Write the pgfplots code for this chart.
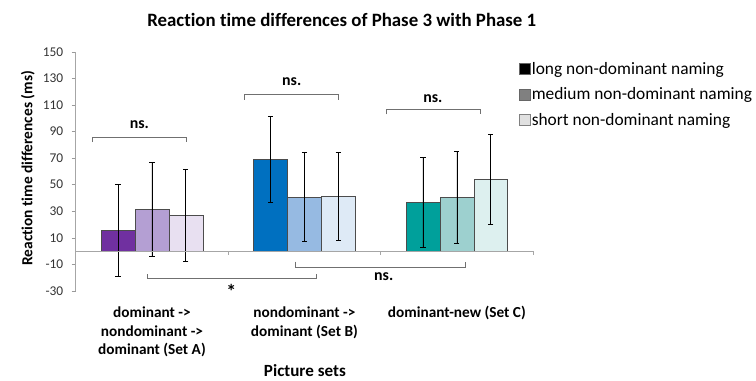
\documentclass[border=0pt]{standalone}
\usepackage{pgfplots}
\pgfplotsset{compat=1.18}
\usepackage{fontspec}
\setmainfont[Ligatures=NoCommon]{Carlito}

\definecolor{purA}{HTML}{7030A0}
\definecolor{purB}{HTML}{B49FD3}
\definecolor{purC}{HTML}{E8E0F1}
\definecolor{bluA}{HTML}{0070C0}
\definecolor{bluB}{HTML}{96BAE2}
\definecolor{bluC}{HTML}{DEEAF6}
\definecolor{teaA}{HTML}{00A09B}
\definecolor{teaB}{HTML}{9DD0CF}
\definecolor{teaC}{HTML}{DDF0EF}
\definecolor{bracket}{HTML}{707070}

\pgfplotsset{
  rtbar/.style={ybar, bar shift=0pt, fill=#1, draw=black!70, line width=0.5pt, forget plot},
}

\begin{document}
\begin{tikzpicture}
\begin{axis}[
  scale only axis,
  width=459bp, height=240bp,
  xmin=-0.5, xmax=2.5,
  ymin=-30, ymax=150,
  clip=false,
  axis x line*=bottom,
  axis y line*=left,
  x axis line style={draw=none},
  y axis line style={draw=black!35, line width=0.7pt},
  major x tick style={draw=none},
  ytick={-30,-10,...,150},
  ytick style={draw=black!40, line width=0.6pt},
  tick align=outside,
  major tick length=4bp,
  /pgf/number format/assume math mode=true,
  yticklabel style={font=\fontsize{13.5}{16}\selectfont, text=black!80, xshift=-5bp},
  xtick={0,1,2},
  xticklabels={{dominant ->\\nondominant ->\\dominant (Set A)},{nondominant ->\\dominant (Set B)},{dominant-new (Set C)}},
  xticklabel style={font=\bfseries\fontsize{15.4}{19}\selectfont, align=center, anchor=north, yshift=-8bp},
  bar width=34bp,
  error bars/y dir=both,
  error bars/y explicit,
  error bars/error mark options={rotate=90, mark size=2.6bp, line width=0.7pt, black},
  error bars/error bar style={line width=0.7pt, black},
  legend cell align=left,
  legend style={at={(0.963,0.97)}, anchor=north west, draw=none, fill=none,
    font=\fontsize{17.5}{20}\selectfont, row sep=10bp,
    nodes={inner sep=1bp}},
]
% Set A: dominant -> nondominant -> dominant
\addplot[rtbar=purA] coordinates {(-0.2222,15.5) +- (0,34.5)};
\addplot[rtbar=purB] coordinates {( 0.0000,31.2) +- (0,35.4)};
\addplot[rtbar=purC] coordinates {( 0.2222,27.0) +- (0,34.6)};
% Set B: nondominant -> dominant
\addplot[rtbar=bluA] coordinates {( 0.7778,68.8) +- (0,32.4)};
\addplot[rtbar=bluB] coordinates {( 1.0000,40.5) +- (0,33.5)};
\addplot[rtbar=bluC] coordinates {( 1.2222,41.3) +- (0,33.0)};
% Set C: dominant-new
\addplot[rtbar=teaA] coordinates {( 1.7778,36.5) +- (0,34.0)};
\addplot[rtbar=teaB] coordinates {( 2.0000,40.5) +- (0,34.4)};
\addplot[rtbar=teaC] coordinates {( 2.2222,54.0) +- (0,34.2)};

% legend swatches
\addlegendimage{legend image code/.code={\draw[fill=black, draw=black!60, line width=0.5pt] (0bp,-5.5bp) rectangle (11bp,5.5bp);}}
\addlegendentry{long non-dominant naming}
\addlegendimage{legend image code/.code={\draw[fill=black!50, draw=black!60, line width=0.5pt] (0bp,-5.5bp) rectangle (11bp,5.5bp);}}
\addlegendentry{medium non-dominant naming}
\addlegendimage{legend image code/.code={\draw[fill=black!12, draw=black!50, line width=0.5pt] (0bp,-5.5bp) rectangle (11bp,5.5bp);}}
\addlegendentry{short non-dominant naming}

% zero line with category separators
\draw[black!35, line width=0.7pt] (axis cs:-0.5,0) -- (axis cs:2.5,0);
\draw[black!35, line width=0.6pt] (axis cs:0.5,0) -- (axis cs:0.5,-3);
\draw[black!35, line width=0.6pt] (axis cs:1.5,0) -- (axis cs:1.5,-3);
\draw[black!35, line width=0.6pt] (axis cs:2.5,0) -- (axis cs:2.5,-3);

% significance brackets
\draw[bracket, line width=0.7pt] (axis cs:-0.391,82) -- (axis cs:-0.391,85.7) -- (axis cs:0.225,85.7) -- (axis cs:0.225,82);
\node[font=\bfseries\fontsize{16}{18}\selectfont] at (axis cs:-0.083,95.5) {ns.};
\draw[bracket, line width=0.7pt] (axis cs:0.609,114) -- (axis cs:0.609,117.8) -- (axis cs:1.225,117.8) -- (axis cs:1.225,114);
\node[font=\bfseries\fontsize{16}{18}\selectfont] at (axis cs:0.917,127.5) {ns.};
\draw[bracket, line width=0.7pt] (axis cs:1.535,103) -- (axis cs:1.535,106.5) -- (axis cs:2.152,106.5) -- (axis cs:2.152,103);
\node[font=\bfseries\fontsize{16}{18}\selectfont] at (axis cs:1.843,114.5) {ns.};
\draw[bracket, line width=0.7pt] (axis cs:-0.031,-17.5) -- (axis cs:-0.031,-20.5) -- (axis cs:1.077,-20.5) -- (axis cs:1.077,-17.5);
\node[font=\bfseries\fontsize{20}{20}\selectfont] at (axis cs:0.52,-30.5) {*};
\draw[bracket, line width=0.7pt] (axis cs:0.938,-8) -- (axis cs:0.938,-12) -- (axis cs:2.058,-12) -- (axis cs:2.058,-8);
\node[font=\bfseries\fontsize{16}{18}\selectfont] at (axis cs:1.52,-19.5) {ns.};
\end{axis}

\node[font=\bfseries\fontsize{19}{22}\selectfont] at ([shift={(267bp,272bp)}]current axis.south west) {Reaction time differences of Phase 3 with Phase 1};
\node[font=\bfseries\fontsize{15.5}{18}\selectfont, rotate=90] at ([shift={(-48bp,123bp)}]current axis.south west) {Reaction time differences (ms)};
\node[font=\bfseries\fontsize{17.2}{20}\selectfont] at ([shift={(230bp,-80bp)}]current axis.south west) {Picture sets};

\path ([shift={(-76bp,-88bp)}]current axis.south west) rectangle ++(756bp,380bp);
\end{tikzpicture}
\end{document}
